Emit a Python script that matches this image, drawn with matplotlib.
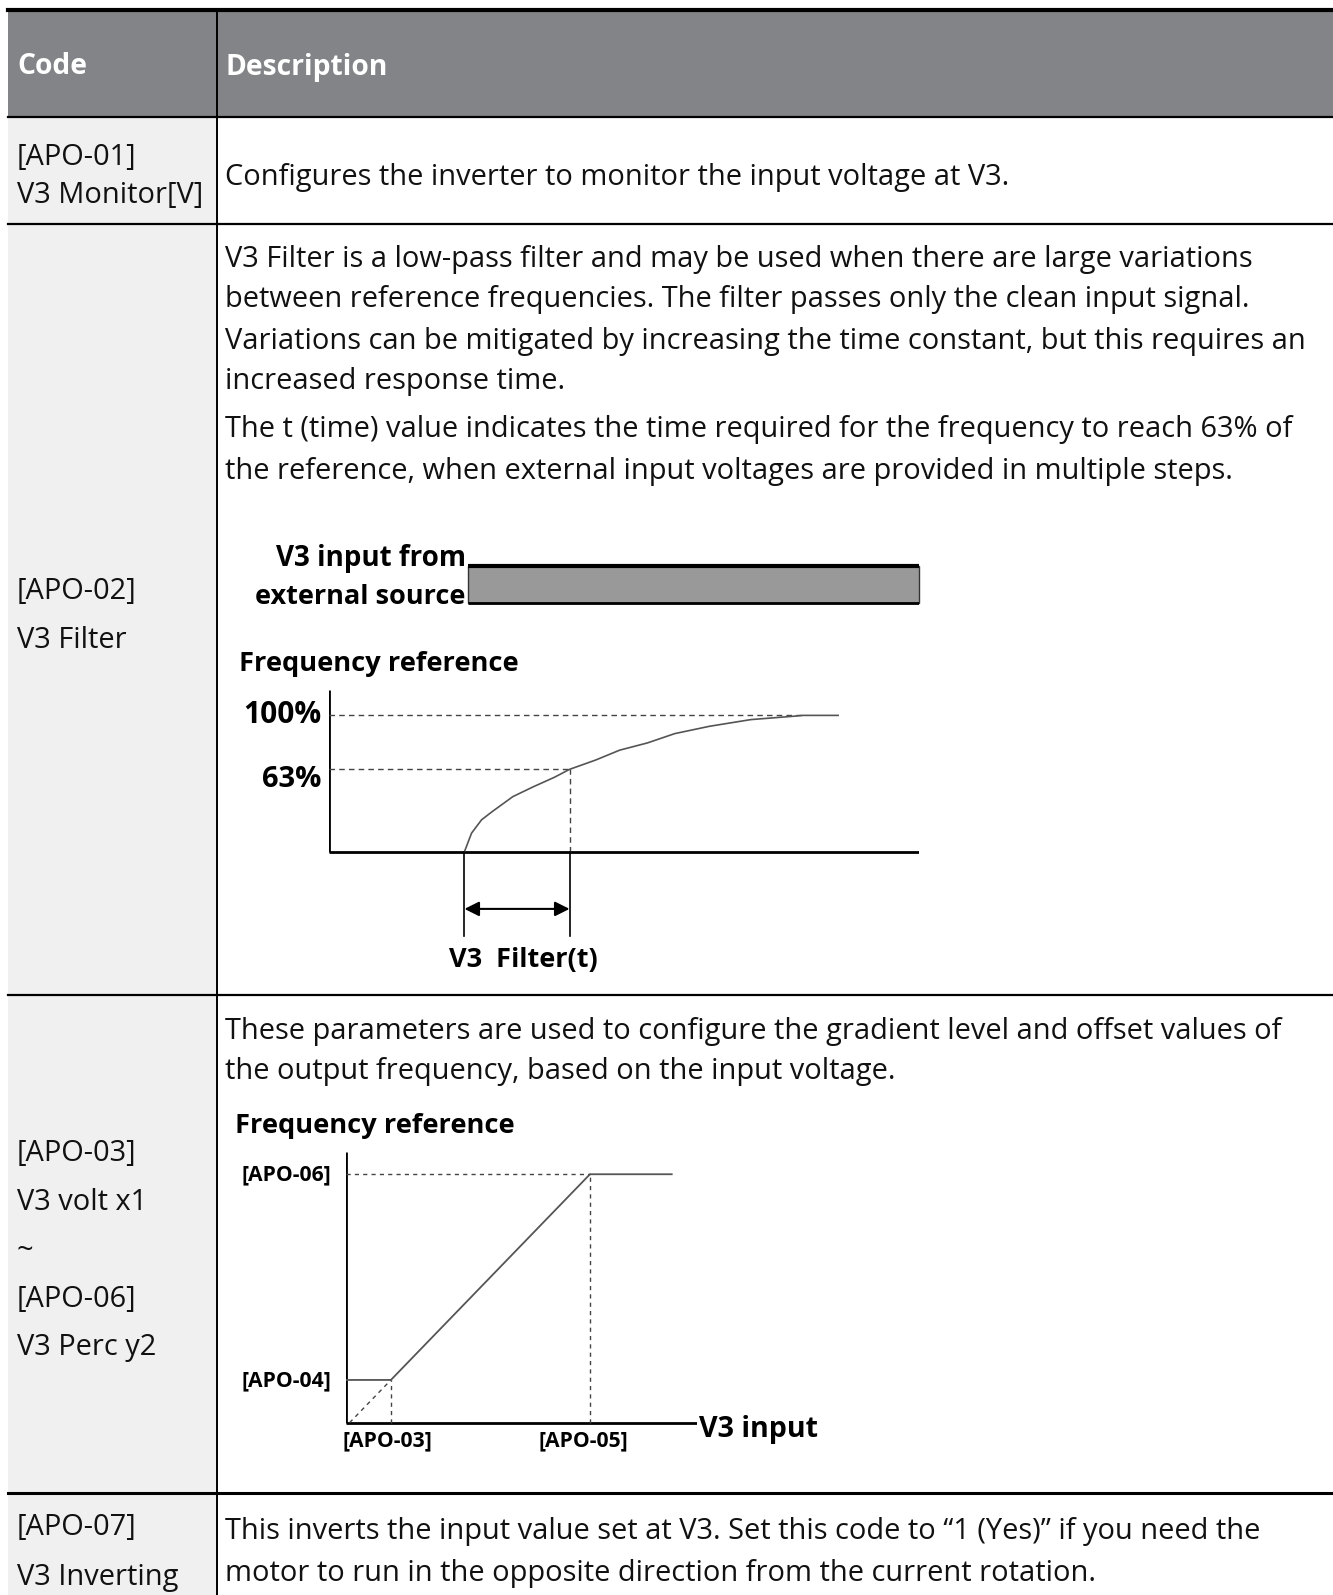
import matplotlib.pyplot as plt
from matplotlib.patches import Rectangle

plt.rcParams['font.family'] = ['Open Sans', 'DejaVu Sans']

W, H = 1333, 1595

# ---- table content ----
header = ["Code", "Description"]
codes = [
    ["[APO-01]", "V3 Monitor[V]"],
    ["[APO-02]", "V3 Filter"],
    ["[APO-03]", "V3 volt x1", "~", "[APO-06]", "V3 Perc y2"],
    ["[APO-07]", "V3 Inverting"],
]
code_y = [[157, 196], [592, 641], [1153, 1202, 1251, 1299, 1348], [1528, 1577]]
descs = [
    ["Configures the inverter to monitor the input voltage at V3."],
    ["V3 Filter is a low-pass filter and may be used when there are large variations",
     "between reference frequencies. The filter passes only the clean input signal.",
     "Variations can be mitigated by increasing the time constant, but this requires an",
     "increased response time.",
     "The t (time) value indicates the time required for the frequency to reach 63% of",
     "the reference, when external input voltages are provided in multiple steps."],
    ["These parameters are used to configure the gradient level and offset values of",
     "the output frequency, based on the input voltage."],
    ["This inverts the input value set at V3. Set this code to \u201c1 (Yes)\u201d if you need the",
     "motor to run in the opposite direction from the current rotation."],
]
desc_y = [[177], [259, 300, 341, 382, 430, 471], [1031, 1071], [1532, 1573]]
row_edges = [10, 117, 224, 995, 1493]

# ---- filter diagram data (time in arbitrary units, frequency in % of full) ----
filter_t = [23.0, 24.2, 25.9, 27.7, 31.2, 34.7, 38.2, 40.8, 45.2, 49.3, 54.0, 58.6,
            64.5, 71.5, 79.1, 80.3, 86.3]
filter_pct = [0, 13.6, 23.4, 29.4, 40.4, 47.7, 54.5, 60.4, 67.2, 74.5, 79.8, 86.6,
              92.0, 96.9, 99.5, 100, 100]
t_start, t_63, pct_63 = 23.0, 40.8, 60.4
input_start = 23.6

# ---- gradient diagram data ----
x1, x2, x_end = 1.28, 6.95, 9.28   # APO-03, APO-05
y1, y2 = 1.72, 10.0                # APO-04, APO-06

fig = plt.figure(figsize=(W / 100, H / 100), dpi=100)
ax = fig.add_axes([0, 0, 1, 1])
ax.set_xlim(0, W)
ax.set_ylim(H, 0)
ax.axis('off')

div_x = 217
ax.add_patch(Rectangle((8, 10), W - 8, 107, color='#838487', lw=0))
ax.add_patch(Rectangle((8, 117), div_x - 8, H - 117, color='#f0f0f0', lw=0))
ax.plot([8, W], [10, 10], c='k', lw=3)
for y in row_edges[1:]:
    ax.plot([8, W], [y, y], c='k', lw=1.6 if y != 1493 else 2.2)
ax.plot([div_x, div_x], [10, H], c='k', lw=1.4)

ax.text(17, 67, header[0], color='white', fontsize=20.3, fontweight='bold', va='center')
ax.text(225, 67, header[1], color='white', fontsize=20.3, fontweight='bold', va='center')

body = 20.9
for lines, ys in zip(codes, code_y):
    for s, y in zip(lines, ys):
        ax.text(17, y, s, fontsize=body, va='center', color='#111')
for lines, ys in zip(descs, desc_y):
    for s, y in zip(lines, ys):
        ax.text(225, y, s, fontsize=body, va='center', color='#111')


def inset(x0, y0, xa, ya):
    a = fig.add_axes([x0 / W, 1 - ya / H, (xa - x0) / W, (ya - y0) / H])
    a.axis('off')
    return a


# ---- filter diagram ----
a1 = inset(328.7, 540, 919, 975)
a1.set_xlim(0, 100)
a1.set_ylim(-90.5, 228.7)
a1.add_patch(Rectangle((input_start, 182.5), 100 - input_start, 27.1,
                       facecolor='#999999', edgecolor='#333333', lw=1, clip_on=False))
a1.plot([input_start, 100], [209.6, 209.6], c='k', lw=3, solid_capstyle='butt')
a1.plot([input_start, 100], [182.5, 182.5], c='k', lw=2, solid_capstyle='butt')
a1.text(23.2, 214.8, "V3 input from", fontsize=20, fontweight='bold', ha='right', va='center')
a1.text(23.2, 186.8, "external source", fontsize=19.5, fontweight='bold', ha='right', va='center')
a1.text(-15.2, 137.8, "Frequency reference", fontsize=19.6, fontweight='bold', va='center')

a1.plot([0, 100], [0, 0], c='k', lw=2, solid_capstyle='butt')
a1.plot([0, 0], [0, 118.6], c='k', lw=2, solid_capstyle='butt')
a1.plot([0, filter_t[-2]], [100, 100], c='#444', lw=1, ls=(0, (4, 3)))
a1.plot([0, t_63], [pct_63, pct_63], c='#444', lw=1, ls=(0, (4, 3)))
a1.plot([t_63, t_63], [0, pct_63], c='#444', lw=1, ls=(0, (4, 3)))
a1.plot(filter_t, filter_pct, c='#555', lw=1.2)
a1.text(-1.2, 100, "100%", fontsize=21.5, fontweight='bold', ha='right', va='center')
a1.text(-1.2, 53, "63%", fontsize=21, fontweight='bold', ha='right', va='center')
for t in (t_start, t_63):
    a1.plot([t, t], [0, -61.8], c='k', lw=1.2)
a1.annotate("", xy=(t_start, -42), xytext=(t_63, -42),
            arrowprops=dict(arrowstyle='<|-|>', color='k', lw=1.5, mutation_scale=22, shrinkA=0, shrinkB=0))
a1.text(33.0, -79.5, "V3  Filter(t)", fontsize=19.5, fontweight='bold', ha='center', va='center')

# ---- gradient diagram ----
a2 = inset(346, 1095, 697, 1450)
a2.set_xlim(0, 10)
a2.set_ylim(-1.10, 13.19)
slope = (y2 - y1) / (x2 - x1)
x0 = x1 - y1 / slope
dash = dict(c='#444', lw=1, ls=(0, (3, 3)))
a2.plot([0, 10], [0, 0], c='k', lw=2, solid_capstyle='butt')
a2.plot([0, 0], [0, 10.9], c='k', lw=2, solid_capstyle='butt')
a2.plot([0, x1, x2, x_end], [y1, y1, y2, y2], c='#555', lw=1.3)
a2.plot([0, x2], [y2, y2], **dash)
a2.plot([x2, x2], [0, y2], **dash)
a2.plot([x1, x1], [0, y1], **dash)
a2.plot([x0, x1], [0, y1], **dash)
lab = 15.2
a2.text(-0.41, y2 - 0.03, "[APO-06]", fontsize=lab, fontweight='bold', ha='right', va='center')
a2.text(-0.41, y1 - 0.03, "[APO-04]", fontsize=lab, fontweight='bold', ha='right', va='center')
a2.text(x1 - 0.09, -0.74, "[APO-03]", fontsize=lab, fontweight='bold', ha='center', va='center')
a2.text(x2 - 0.2, -0.74, "[APO-05]", fontsize=lab, fontweight='bold', ha='center', va='center')
a2.text(10.06, -0.29, "V3 input", fontsize=20.6, fontweight='bold', ha='left', va='center')
a2.text(-3.16, 11.95, "Frequency reference", fontsize=19.6, fontweight='bold', va='center')

fig.savefig("out.png", dpi=100)
